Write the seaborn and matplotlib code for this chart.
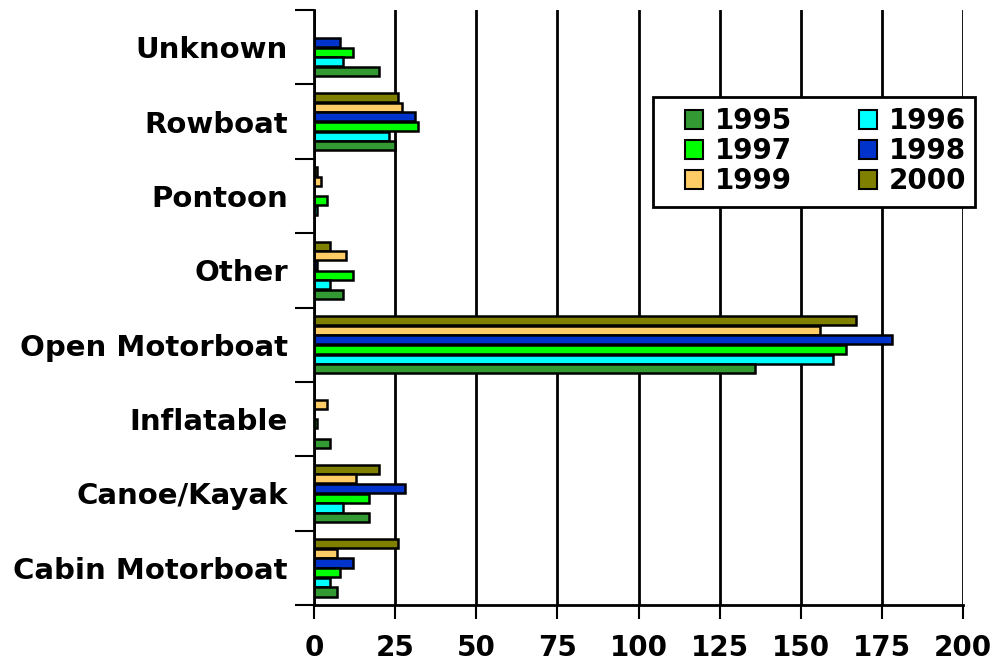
import numpy as np
import pandas as pd
import matplotlib
matplotlib.use("Agg")
import matplotlib.pyplot as plt
from matplotlib.patches import Patch, Rectangle
from matplotlib.ticker import FixedLocator
import seaborn as sns

# Данные с графика (категории сверху вниз)
categories = ["Unknown", "Rowboat", "Pontoon", "Other", "Open Motorboat",
              "Inflatable", "Canoe/Kayak", "Cabin Motorboat"]
years = ["1995", "1996", "1997", "1998", "1999", "2000"]
v1995 = [20, 25, 0, 9, 136, 5, 17, 7]
v1996 = [9, 23, 1, 5, 160, 0, 9, 5]
v1997 = [12, 32, 4, 12, 164, 1, 17, 8]
v1998 = [8, 31, 0, 1, 178, 0, 28, 12]
v1999 = [0, 27, 2, 10, 156, 4, 13, 7]
v2000 = [0, 26, 1, 5, 167, 0, 20, 26]
colors = ["#339933", "#00FFFF", "#00FF00", "#0033CC", "#FFCC66", "#808000"]

series = [v1995, v1996, v1997, v1998, v1999, v2000]
rows = []
for year, vals in zip(years, series):
    for cat, v in zip(categories, vals):
        rows.append({"category": cat, "year": year, "count": v if v > 0 else np.nan})
df = pd.DataFrame(rows)

sns.set_style("white")
plt.rcParams["font.family"] = ["DejaVu Sans"]
plt.rcParams["font.weight"] = "bold"
plt.rcParams["text.color"] = "black"
plt.rcParams["xtick.color"] = "black"
plt.rcParams["ytick.color"] = "black"

fig = plt.figure(figsize=(9.95, 6.7), dpi=100)
ax = fig.add_axes([0.3156, 0.097, 0.6524, 0.888])

# 1995 внизу группы, поэтому порядок годов обратный
hue_order = years[::-1]
palette = dict(zip(years, colors))
sns.barplot(data=df, y="category", x="count", hue="year", order=categories,
            hue_order=hue_order, palette=palette, orient="h", errorbar=None,
            width=0.78, gap=0.06, edgecolor="black", linewidth=1.8,
            saturation=1, legend=False, ax=ax)

ax.set_xlim(0, 200)
ax.set_xticks(range(0, 201, 25))
ax.xaxis.grid(True, color="black", linewidth=2)
ax.set_axisbelow(True)
ax.set_xlabel("")
ax.set_ylabel("")

for side in ["top", "right"]:
    ax.spines[side].set_visible(False)
for side in ["left", "bottom"]:
    ax.spines[side].set_color("black")
    ax.spines[side].set_linewidth(2)

ax.tick_params(axis="x", direction="out", length=10, width=1.5, pad=11,
               labelsize=20, labelcolor="black", bottom=True)
ax.tick_params(axis="y", which="major", length=0, pad=19, labelsize=21,
               labelcolor="black")
ax.yaxis.set_minor_locator(FixedLocator(np.arange(-0.5, len(categories), 1)))
ax.tick_params(axis="y", which="minor", direction="out", length=14, width=1.5,
               left=True, color="black")
for lbl in ax.get_xticklabels() + ax.get_yticklabels():
    lbl.set_fontweight("bold")

# Рамка легенды (отступ слева больше, чем справа)
ax.add_patch(Rectangle((653 / 995, 1 - 207 / 670), 322 / 995, 110 / 670,
                       transform=fig.transFigure, facecolor="white",
                       edgecolor="black", linewidth=2, zorder=4, clip_on=False))

# Легенда: строки 1995/1996, 1997/1998, 1999/2000
leg_order = ["1995", "1997", "1999", "1996", "1998", "2000"]
handles = [Patch(facecolor=palette[y], edgecolor="black", linewidth=1.5) for y in leg_order]
leg = ax.legend(handles, leg_order, ncol=2, loc="upper left",
                bbox_to_anchor=(685 / 995, 1 - 107 / 670),
                bbox_transform=fig.transFigure, borderaxespad=0,
                prop={"size": 20, "weight": "bold"}, frameon=False,
                handlelength=0.65, handleheight=0.7, handletextpad=0.43,
                columnspacing=2.4, labelspacing=0.08, borderpad=0)
leg.set_zorder(5)
for t in leg.get_texts():
    t.set_color("black")

fig.savefig("out.png", dpi=100)
